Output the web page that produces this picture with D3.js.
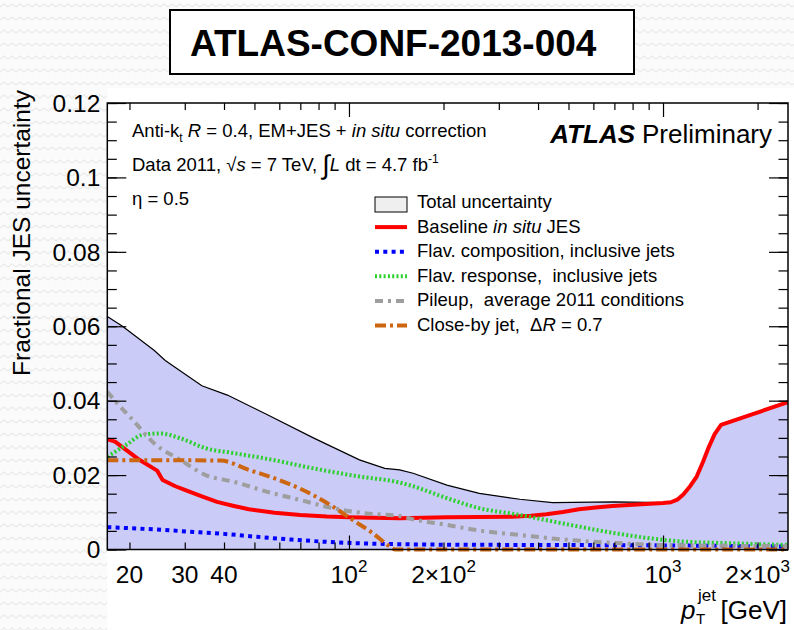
<!DOCTYPE html>
<html>
<head>
<meta charset="utf-8">
<script src="https://cdn.jsdelivr.net/npm/d3@7"></script>
<style>
  body { margin: 0; background: #fafafa; }
  svg { display: block; font-family: "Liberation Sans", Arial, Helvetica, sans-serif; }
</style>
</head>
<body>
<svg id="chart" width="794" height="630"></svg>
<script>
// pT [GeV] vs fractional JES uncertainty
const totalUnc = [[17, 0.0626], [19, 0.0600], [24, 0.0535], [26, 0.0508], [34, 0.0440], [41, 0.0415],
  [55, 0.0362], [77, 0.0300], [108, 0.0241], [130, 0.0218], [145, 0.0214], [160, 0.0205], [205, 0.0173],
  [260, 0.0151], [350, 0.0135], [445, 0.0126], [700, 0.0128], [1000, 0.0126], [1060, 0.0129],
  [1110, 0.0136], [1160, 0.0150], [1220, 0.0172], [1280, 0.0198], [1340, 0.0237], [1400, 0.0278],
  [1460, 0.0312], [1530, 0.0337], [1900, 0.0364], [2500, 0.0398]];
const baselineJES = [[17, 0.0296], [18, 0.0290], [21.5, 0.0241], [24.5, 0.0212], [25.5, 0.0187],
  [28, 0.0170], [30, 0.0160], [34, 0.0143], [38, 0.0128], [43, 0.0117], [48, 0.0108], [58, 0.0099],
  [70, 0.0093], [85, 0.0089], [100, 0.0087], [145, 0.0084], [205, 0.0087], [330, 0.0088], [380, 0.0091],
  [425, 0.0095], [480, 0.0101], [540, 0.0108], [610, 0.0113], [690, 0.0117], [880, 0.0122], [1000, 0.0125],
  [1060, 0.0127], [1110, 0.0134], [1160, 0.0148], [1220, 0.0170], [1280, 0.0196], [1340, 0.0235],
  [1400, 0.0276], [1460, 0.0310], [1530, 0.0335], [1900, 0.0362], [2500, 0.0396]];
const flavComposition = [[17, 0.0060], [24, 0.0054], [31, 0.0048], [40, 0.0042], [51, 0.0034], [65, 0.0027],
  [83, 0.0021], [105, 0.0017], [130, 0.0015], [200, 0.0013], [500, 0.0012], [1000, 0.0011], [2500, 0.0008]];
const flavResponse = [[17, 0.0249], [19.5, 0.0281], [22, 0.0308], [25, 0.0312], [29, 0.0299], [35, 0.0272],
  [43, 0.0259], [57, 0.0241], [77, 0.0218], [108, 0.0196], [145, 0.0180], [160, 0.0170], [205, 0.0138],
  [260, 0.0111], [350, 0.0093], [480, 0.0070], [690, 0.0045], [1000, 0.0026], [1130, 0.0022],
  [1600, 0.0017], [2500, 0.0012]];
const pileup = [[17, 0.0424], [18.6, 0.0386], [20.5, 0.0348], [24, 0.0285], [29, 0.0241], [35, 0.0200],
  [43, 0.0182], [55, 0.0155], [70, 0.0133], [89, 0.0111], [114, 0.0097], [145, 0.0090], [160, 0.0081],
  [205, 0.0066], [260, 0.0051], [350, 0.0039], [480, 0.0027], [690, 0.0018], [1000, 0.0012], [2500, 0.0009]];
const closeByJet = [[17, 0.0240], [25, 0.0240], [39, 0.0239], [48, 0.0214], [62, 0.0182], [77, 0.0146],
  [89, 0.0115], [103, 0.0079], [119, 0.0044], [135, 0.0008], [140, 0], [2500, 0]];

const xMajor = [100, 1000];
const xMinor = [20, 30, 40, 50, 60, 70, 80, 90, 200, 300, 400, 500, 600, 700, 800, 900, 2000];
const xLabels = [[20, '20', ''], [30, '30', ''], [40, '40', ''], [100, '10', '2'],
  [200, '2\u00d710', '2'], [1000, '10', '3'], [2000, '2\u00d710', '3']];
const yMajor = [0, 0.02, 0.04, 0.06, 0.08, 0.1, 0.12];
const yMinor = d3.range(0, 0.1201, 0.005);

const legendEntries = [
  { key: 'total', parts: [['Total uncertainty', '']] },
  { key: 'baseline', parts: [['Baseline ', ''], ['in situ', 'italic'], [' JES', '']] },
  { key: 'flavComp', parts: [['Flav. composition, inclusive jets', '']] },
  { key: 'flavResp', parts: [['Flav. response,\u00a0 inclusive jets', '']] },
  { key: 'pileup', parts: [['Pileup,\u00a0 average 2011 conditions', '']] },
  { key: 'closeBy', parts: [['Close-by jet,\u00a0 \u0394', ''], ['R', 'italic'], [' = 0.7', '']] }
];

const styles = {
  baseline: { color: '#ff0000', width: 4, dash: null, curve: d3.curveLinear },
  flavComp: { color: '#0000ff', width: 4, dash: '4,4.3', curve: d3.curveMonotoneX },
  flavResp: { color: '#2bd12b', width: 4, dash: '2,2.3', curve: d3.curveMonotoneX },
  pileup: { color: '#9e9e9e', width: 4, dash: '8,5,3,5', curve: d3.curveMonotoneX },
  closeBy: { color: '#cc6611', width: 4, dash: '11,4,3,4', curve: d3.curveMonotoneX }
};
const seriesData = {
  baseline: baselineJES, flavComp: flavComposition, flavResp: flavResponse,
  pileup: pileup, closeBy: closeByJet
};

const svg = d3.select('#chart');
const padL = 107.3, padR = 788, padT = 103, padB = 549.5;

const x = d3.scaleLog().domain([17, 2500]).range([padL, padR]);
const y = d3.scaleLinear().domain([0, 0.12]).range([padB, padT]);

// background texture
const defs = svg.append('defs');
const pat = defs.append('pattern')
  .attr('id', 'zig').attr('patternUnits', 'userSpaceOnUse')
  .attr('width', 16).attr('height', 13);
pat.append('rect').attr('width', 16).attr('height', 13).attr('fill', '#fbfbfb');
pat.append('path').attr('d', 'M0,7 L4,4 L8,7 L12,4 L16,7')
  .attr('fill', 'none').attr('stroke', '#ebebeb').attr('stroke-width', 1.3);
svg.append('rect').attr('width', 794).attr('height', 630).attr('fill', 'url(#zig)');

defs.append('clipPath').attr('id', 'plotClip')
  .append('rect').attr('x', padL).attr('y', padT)
  .attr('width', padR - padL).attr('height', padB - padT + 3);

// white pad behind the plot and x labels
svg.append('rect').attr('x', padL).attr('y', 88)
  .attr('width', 794 - padL).attr('height', 630 - 88).attr('fill', '#fff');

// title box
svg.append('rect').attr('x', 170).attr('y', 10).attr('width', 464).attr('height', 64)
  .attr('fill', '#fff').attr('stroke', '#000').attr('stroke-width', 2);
svg.append('text').attr('x', 190).attr('y', 56)
  .attr('font-size', 37).attr('font-weight', 'bold').text('ATLAS-CONF-2013-004');

const plot = svg.append('g').attr('clip-path', 'url(#plotClip)');

// total uncertainty band
plot.append('path')
  .datum(totalUnc)
  .attr('fill', '#cbcbf7')
  .attr('d', d3.area().x(d => x(d[0])).y0(padB).y1(d => y(d[1])));
plot.append('path')
  .datum(totalUnc)
  .attr('fill', 'none').attr('stroke', '#000').attr('stroke-width', 1.2)
  .attr('d', d3.line().x(d => x(d[0])).y(d => y(d[1])));

Object.keys(seriesData).forEach(key => {
  const s = styles[key];
  const line = d3.line().x(d => x(d[0])).y(d => y(d[1])).curve(s.curve);
  plot.append('path')
    .datum(seriesData[key])
    .attr('fill', 'none')
    .attr('stroke', s.color)
    .attr('stroke-width', s.width)
    .attr('stroke-linejoin', 'round')
    .attr('stroke-dasharray', s.dash)
    .attr('d', line);
});

// axes: ticks point inwards, mirrored on top and right
function xTicks (vals, len) {
  svg.append('g').attr('transform', `translate(0,${padB})`)
    .call(d3.axisBottom(x).tickValues(vals).tickSize(-len).tickFormat(''))
    .call(g => g.select('.domain').remove());
  svg.append('g').attr('transform', `translate(0,${padT})`)
    .call(d3.axisTop(x).tickValues(vals).tickSize(-len).tickFormat(''))
    .call(g => g.select('.domain').remove());
}
xTicks(xMinor, 7);
xTicks(xMajor, 14);

function yTicks (vals, len) {
  svg.append('g').attr('transform', `translate(${padL},0)`)
    .call(d3.axisLeft(y).tickValues(vals).tickSize(-len).tickFormat(''))
    .call(g => g.select('.domain').remove());
  svg.append('g').attr('transform', `translate(${padR},0)`)
    .call(d3.axisRight(y).tickValues(vals).tickSize(-len).tickFormat(''))
    .call(g => g.select('.domain').remove());
}
yTicks(yMinor, 9.5);
yTicks(yMajor, 19);
svg.selectAll('.tick line').attr('stroke-width', 1.2);

svg.append('rect').attr('x', padL).attr('y', padT)
  .attr('width', padR - padL).attr('height', padB - padT)
  .attr('fill', 'none').attr('stroke', '#000').attr('stroke-width', 1.5);

// y tick labels
svg.append('g').selectAll('text')
  .data(yMajor).enter().append('text')
  .attr('x', padL - 7)
  .attr('y', d => y(d))
  .attr('dy', '0.36em')
  .attr('text-anchor', 'end')
  .attr('font-size', 24.5)
  .text(d => d === 0 ? '0' : String(+d.toFixed(2)));

// x tick labels
const xl = svg.append('g').selectAll('text')
  .data(xLabels).enter().append('text')
  .attr('x', d => x(d[0]))
  .attr('y', 583)
  .attr('text-anchor', 'middle')
  .attr('font-size', 24.5);
xl.append('tspan').text(d => d[1]);
xl.append('tspan').attr('dy', -11).attr('font-size', 17).text(d => d[2]);

// axis titles
svg.append('text')
  .attr('transform', 'translate(30,90) rotate(-90)')
  .attr('text-anchor', 'end')
  .attr('font-size', 24.5)
  .text('Fractional JES uncertainty');

const xt = svg.append('g').attr('font-size', 26);
xt.append('text').attr('x', 681).attr('y', 619).attr('font-style', 'italic').text('p');
xt.append('text').attr('x', 698).attr('y', 601).attr('font-size', 17).text('jet');
xt.append('text').attr('x', 696).attr('y', 624).attr('font-size', 15).text('T');
xt.append('text').attr('x', 787).attr('y', 619).attr('text-anchor', 'end').text('[GeV]');

// labels inside the frame
const info = svg.append('g').attr('font-size', 18.5);
const l1 = info.append('text').attr('x', 132).attr('y', 137);
l1.append('tspan').text('Anti-k');
l1.append('tspan').attr('dy', 5).attr('font-size', 12).text('t');
l1.append('tspan').attr('dy', -5).text(' ');
l1.append('tspan').attr('font-style', 'italic').text('R');
l1.append('tspan').text(' = 0.4, EM+JES + ');
l1.append('tspan').attr('font-style', 'italic').text('in situ');
l1.append('tspan').text(' correction');

const l2 = info.append('text').attr('x', 132).attr('y', 171);
l2.append('tspan').text('Data 2011, ');
l2.append('tspan').text('\u221a');
l2.append('tspan').attr('font-style', 'italic').text('s');
l2.append('tspan').text(' = 7 TeV, ');
l2.append('tspan').attr('font-size', 27).attr('dy', 3).text('\u222b');
l2.append('tspan').attr('dy', -3).attr('font-style', 'italic').text('L');
l2.append('tspan').text(' dt = 4.7 fb');
l2.append('tspan').attr('dy', -8).attr('font-size', 12).text('-1');

info.append('text').attr('x', 132).attr('y', 205).text('\u03b7 = 0.5');

const atlas = svg.append('g').attr('font-size', 26);
atlas.append('text').attr('x', 635).attr('y', 143).attr('text-anchor', 'end')
  .attr('font-weight', 'bold').attr('font-style', 'italic').text('ATLAS');
atlas.append('text').attr('x', 772).attr('y', 143).attr('text-anchor', 'end').text('Preliminary');

// legend
const legend = svg.append('g').attr('font-size', 18.5);
const rowY = i => 208 + i * 24.6;
legendEntries.forEach((e, i) => {
  const yy = rowY(i);
  if (e.key === 'total') {
    legend.append('rect').attr('x', 375).attr('y', yy - 11).attr('width', 32).attr('height', 15)
      .attr('fill', '#efefef').attr('stroke', '#000').attr('stroke-width', 1);
  } else {
    const s = styles[e.key];
    legend.append('line')
      .attr('x1', 375).attr('x2', 407).attr('y1', yy - 5.5).attr('y2', yy - 5.5)
      .attr('stroke', s.color).attr('stroke-width', s.width)
      .attr('stroke-dasharray', s.dash);
  }
  const t = legend.append('text').attr('x', 417).attr('y', yy);
  e.parts.forEach(p => {
    t.append('tspan').attr('font-style', p[1] || null).text(p[0]);
  });
});
</script>
</body>
</html>
